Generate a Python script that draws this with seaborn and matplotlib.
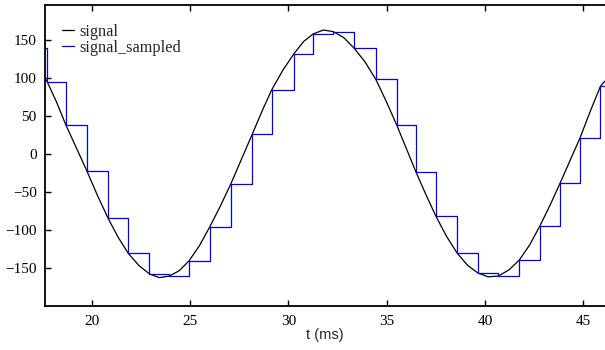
#!/usr/bin/env python3

import matplotlib
matplotlib.use("Agg")
import matplotlib.pyplot as plt
import seaborn as sns

# sampled signal: sample instants (ms) and held values
sample_t = [16.70, 17.74, 18.69, 19.75, 20.84, 21.86, 22.93, 23.95, 24.95, 26.01,
            27.07, 28.17, 29.15, 30.29, 31.27, 32.28, 33.35, 34.45, 35.51, 36.49,
            37.50, 38.59, 39.64, 40.67, 41.74, 42.79, 43.81, 44.83, 45.87, 46.91]
sample_v = [140, 95, 38, -22, -85, -131, -158, -161, -141, -96,
            -40, 26, 84, 132, 158, 161, 139, 98, 38, -24,
            -82, -131, -157, -161, -140, -95, -39, 21, 89, 89]

# continuous signal
signal_t = [17.63, 17.74, 18.22, 18.69, 19.22, 19.75, 20.30, 20.84, 21.35, 21.86,
            22.40, 22.93, 23.44, 23.95, 24.45, 24.95, 25.48, 26.01, 26.54, 27.07,
            27.62, 28.17, 28.66, 29.15, 29.72, 30.29, 30.78, 31.27, 31.78, 32.28,
            32.82, 33.35, 33.90, 34.45, 34.98, 35.51, 36.00, 36.49, 37.00, 37.50,
            38.05, 38.59, 39.12, 39.64, 40.16, 40.67, 41.21, 41.74, 42.27, 42.79,
            43.30, 43.81, 44.32, 44.83, 45.35, 45.87, 46.10]
signal_v = [99, 95, 68, 38, 8, -22, -55, -85, -110, -131,
            -147, -158, -163, -161, -154, -141, -121, -96, -69, -40,
            -7, 26, 56, 84, 110, 132, 148, 158, 163, 161,
            153, 139, 121, 98, 69, 38, 7, -24, -54, -82,
            -109, -131, -147, -157, -162, -161, -153, -140, -120, -95,
            -68, -39, -9, 21, 56, 89, 96]

y_ticks = [-150, -100, -50, 0, 50, 100, 150]
x_ticks = [20, 25, 30, 35, 40, 45]


def main() -> int:
    sns.set_style("ticks")
    plt.rcParams["font.family"] = ["Liberation Serif", "DejaVu Serif"]

    fig = plt.figure(figsize=(6.05, 3.5), dpi=100)
    ax = fig.add_axes([0.0744, 0.1266, 0.9256, 0.8591])

    sns.lineplot(x=signal_t, y=signal_v, ax=ax, color="black", linewidth=0.9,
                 label="signal", sort=False)
    sns.lineplot(x=sample_t, y=sample_v, ax=ax, color="#0000ff", linewidth=0.9,
                 drawstyle="steps-post", label="signal_sampled", sort=False)

    ax.set_xlim(17.63, 46.1)
    ax.set_ylim(-200, 196)
    ax.set_xticks(x_ticks)
    ax.set_yticks(y_ticks)
    ax.tick_params(direction="in", length=4, width=1, labelsize=11,
                   top=True, right=False, colors="black")
    ax.tick_params(axis="x", pad=7)
    ax.tick_params(axis="y", pad=6)
    for side in ("left", "bottom", "top"):
        ax.spines[side].set_linewidth(1.3)
        ax.spines[side].set_color("black")
    ax.spines["right"].set_visible(False)

    ax.set_xlabel("t (ms)", family=["Liberation Sans", "DejaVu Sans"], fontsize=10.5, labelpad=0)
    ax.set_ylabel("")

    ax.legend(loc="upper left", bbox_to_anchor=(0.03, 0.937), frameon=False,
              fontsize=11.7, handlelength=0.75, handletextpad=0.35,
              labelspacing=0.0, borderaxespad=0.0, borderpad=0.0)

    fig.savefig("out.png", dpi=100)
    plt.close(fig)
    return 0


if __name__ == "__main__":
    raise SystemExit(main())
